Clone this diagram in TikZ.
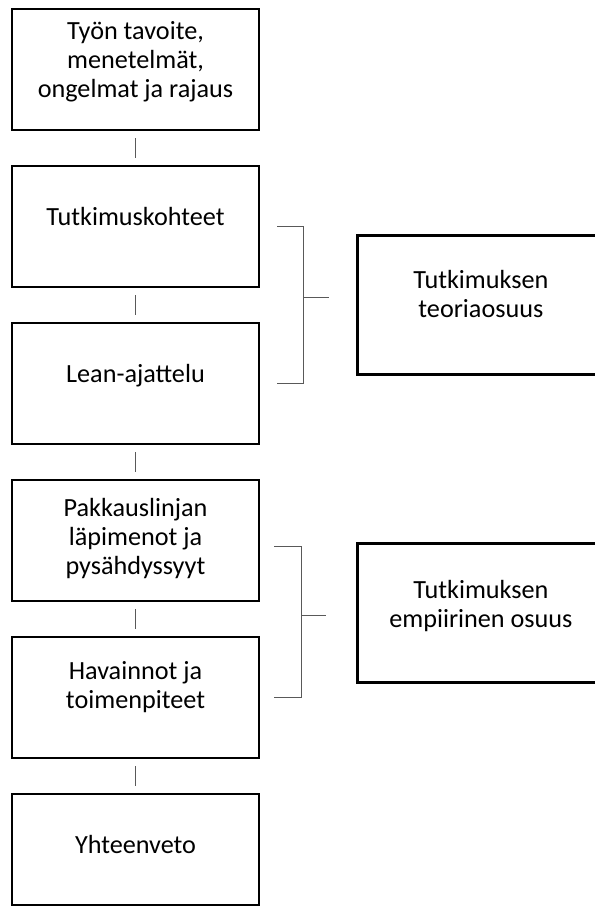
\documentclass[tikz,border=0pt]{standalone}
\usepackage{fontspec}
\setmainfont{Carlito}
\usepackage{tikz}
\usetikzlibrary{positioning, calc}
\tikzstyle{box} = [rectangle, draw=black, line width=1.2pt, minimum width=123.5pt, minimum height=60.5pt, align=center, inner sep=0pt, text depth=10.5pt, font=\fontsize{13.1pt}{14.5pt}\selectfont]
\tikzstyle{sidebox} = [box, minimum height=69.5pt]
\tikzstyle{line} = [draw=black!65, line width=0.6pt]

\begin{document}
\fontsize{13.1pt}{14.5pt}\selectfont
\begin{tikzpicture}[node distance=16.8pt]
\useasboundingbox (0,0) rectangle (297pt,-457.5pt);
\node (tyo) [box] at (67.75pt,-34.75pt) {Työn tavoite,\\menetelmät,\\ongelmat ja rajaus};
\node (kohteet) [box, below=of tyo] {Tutkimuskohteet};
\node (lean) [box, below=of kohteet] {Lean-ajattelu};
\node (linja) [box, below=of lean, text depth=4pt] {Pakkauslinjan\\läpimenot ja\\pysähdyssyyt};
\node (havainnot) [box, below=of linja, text depth=13pt] {Havainnot ja\\toimenpiteet};
\node (yht) [box, below=of havainnot, minimum height=55.5pt, text depth=5.5pt] {Yhteenveto};
\draw [line, shorten <=3.5pt, shorten >=3.5pt] (tyo) -- (kohteet);
\draw [line, shorten <=3.5pt, shorten >=3.5pt] (kohteet) -- (lean);
\draw [line, shorten <=3.5pt, shorten >=3.5pt] (lean) -- (linja);
\draw [line, shorten <=3.5pt, shorten >=3.5pt] (linja) -- (havainnot);
\draw [line, shorten <=3.5pt, shorten >=3.5pt] (havainnot) -- (yht);
\coordinate (m1) at ($(kohteet.east)!0.5!(lean.east)$);
\coordinate (m2) at ($(linja.east)!0.5!(havainnot.east)$);
\node (teoria) [sidebox, right=48pt of m1, text depth=11pt] {Tutkimuksen\\teoriaosuus};
\node (empiria) [sidebox, right=48pt of m2, yshift=3pt, text depth=9.5pt] {Tutkimuksen\\empiirinen osuus};
\coordinate [right=8.5pt of kohteet] (t1);
\coordinate [right=8.5pt of lean] (b1);
\coordinate (v1) at ($(t1)!0.45!(b1)+(13pt,0)$);
\coordinate [right=13pt of v1] (e1);
\draw [line] (t1) -- (t1 -| v1) -- (b1 -| v1) -- (b1);
\draw [line] (v1) -- (e1);
\coordinate [right=7pt of linja, yshift=-3pt] (t2);
\coordinate [right=7pt of havainnot] (b2);
\coordinate (v2) at ($(t2)!0.457!(b2)+(13.5pt,0)$);
\coordinate [right=12.5pt of v2] (e2);
\draw [line] (t2) -- (t2 -| v2) -- (b2 -| v2) -- (b2);
\draw [line] (v2) -- (e2);
\end{tikzpicture}
\end{document}
